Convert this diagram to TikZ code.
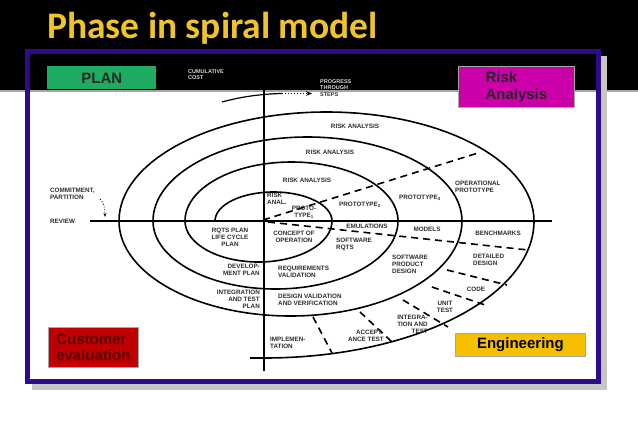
\documentclass[tikz,border=0pt]{standalone}
\usepackage{fontspec}
\setmainfont{Liberation Sans}
\newfontfamily\titlefont{Carlito}
\usetikzlibrary{arrows.meta}
\definecolor{frameblue}{RGB}{44,12,140}
\definecolor{plangreen}{RGB}{30,172,98}
\definecolor{riskmag}{RGB}{204,0,168}
\definecolor{custred}{RGB}{192,0,0}
\definecolor{enggold}{RGB}{246,192,0}
\definecolor{titleyellow}{RGB}{240,196,40}
\tikzset{
  lbl/.style={font=\bfseries\fontsize{6.3}{7}\selectfont, text=black!82, inner sep=0pt, align=center},
  lbll/.style={lbl, align=left},
  lblr/.style={lbl, align=right},
  phase/.style={font=\bfseries\fontsize{15}{16.5}\selectfont, inner sep=3pt, align=left, anchor=north west, draw=gray!70, line width=0.8pt},
  spiral/.style={line width=1.6pt, black},
  dsh/.style={line width=1.6pt, dash pattern=on 7pt off 5pt, black}
}
\begin{document}
\begin{tikzpicture}[x=1pt,y=-1pt]
\useasboundingbox (0,0) rectangle (638,426);
% background
\fill[black] (0,0) rectangle (638,90);
\fill[white] (0,90) rectangle (638,426);
\fill[gray!70] (0,90) rectangle (638,91.5);
% shadow and frame
\fill[gray!45] (600,56) rectangle (607,390);
\fill[gray!45] (32,383) rectangle (607,390);
\fill[white] (29,91.5) rectangle (597,380);
\draw[frameblue, line width=5pt] (27.5,51.5) rectangle (598,381);
% title
\node[anchor=base west, text=titleyellow, font=\titlefont\bfseries\fontsize{37.5}{42}\selectfont, inner sep=0pt] (title) at (47,38) {Phase in spiral model};
% phase boxes
\node[phase, fill=plangreen, text=black!85, minimum width=109pt, minimum height=23pt, draw=none] (plan) at (47,66) {PLAN};
\node[phase, fill=riskmag, text=black!85, minimum width=116pt, minimum height=41pt, inner sep=2pt] (risk) at (458,66) {Risk\\Analysis};
\node[phase, fill=custred, text={rgb,255:red,90;green,0;blue,0}, minimum width=90pt, minimum height=40pt, inner sep=2pt] (cust) at (48,327) {Customer\\evaluation};
\node[phase, fill=enggold, text=black, minimum width=130pt, minimum height=23pt, inner sep=3pt] (eng) at (455,333) {Engineering};
% axes
\coordinate (vtop) at (264,65);
\coordinate (vbot) at (264,371);
\coordinate (hl) at (90,221);
\coordinate (hr) at (552,221);
\draw[line width=1.3pt, -{Triangle[open, length=9pt, width=9pt, line width=0.8pt]}] (vbot) -- (vtop);
\draw[line width=1.6pt] (hl) -- (hr);
% spiral
\draw[spiral] (215,221)
  arc[start angle=180,end angle=360,x radius=58.5,y radius=29]
  arc[start angle=0,end angle=180,x radius=73.5,y radius=41]
  arc[start angle=180,end angle=360,x radius=106.5,y radius=59]
  arc[start angle=0,end angle=180,x radius=122.5,y radius=68]
  arc[start angle=180,end angle=360,x radius=154.5,y radius=84]
  arc[start angle=0,end angle=180,x radius=171.5,y radius=95]
  arc[start angle=180,end angle=360,x radius=207.5,y radius=109]
  arc[start angle=0,end angle=90,x radius=270,y radius=137] -- ++(-14,0);
% dashed radials
\coordinate (du1) at (263,220); \coordinate (du2) at (478,153);
\coordinate (dl1) at (268,222); \coordinate (dl2) at (528,250);
\draw[dsh] (du1) -- (du2);
\draw[dsh] (dl1) -- (dl2);
\coordinate (e1a) at (313,317); \coordinate (e1b) at (332,353);
\coordinate (e2a) at (360,312); \coordinate (e2b) at (393,343);
\coordinate (e3a) at (403,300); \coordinate (e3b) at (448,327);
\coordinate (e4a) at (432,287); \coordinate (e4b) at (485,305);
\coordinate (e5a) at (447,270); \coordinate (e5b) at (507,285);
\draw[dsh] (e1a) -- (e1b);
\draw[dsh] (e2a) -- (e2b);
\draw[dsh] (e3a) -- (e3b);
\draw[dsh] (e4a) -- (e4b);
\draw[dsh] (e5a) -- (e5b);
% progress arrow
\coordinate (p0) at (222,102);
\coordinate (p1) at (282,93.5);
\coordinate (p2) at (312,93.5);
\draw[line width=1.2pt, black] (p0) .. controls (240,97) and (260,94) .. (p1);
\draw[line width=1pt, black, dotted, -{Stealth[length=6pt]}] (p1) -- (p2);
% commitment arrow
\coordinate (c0) at (100,199);
\coordinate (c1) at (105,217);
\draw[line width=0.9pt, dotted, -{Stealth[length=4pt]}] (c0) .. controls (104,203) and (105,208) .. (c1);
% labels on black
\node[lbll, text=white!85!black, anchor=north west, font=\bfseries\fontsize{5.5}{6}\selectfont] (cum) at (188,69) {CUMULATIVE\\COST};
\node[lbll, text=white!85!black, anchor=north west, font=\bfseries\fontsize{5.5}{6}\selectfont] (prog) at (320,79) {PROGRESS\\THROUGH};
\node[lbll, anchor=north west, font=\bfseries\fontsize{5.5}{6}\selectfont] (steps) at (320,92) {STEPS};
% spiral labels
\node[lbl] (ra1) at (355,126) {RISK ANALYSIS};
\node[lbl] (ra2) at (330,152) {RISK ANALYSIS};
\node[lbl] (ra3) at (307,180) {RISK ANALYSIS};
\node[lbll, anchor=north west] (ra4) at (267,193) {RISK\\ANAL.};
\node[lbl] (pt1) at (304,212) {PROTO-\\TYPE$_{\mathbf{1}}$};
\node[lbl] (pt2) at (360,205) {PROTOTYPE$_{\mathbf{2}}$};
\node[lbl] (pt3) at (420,198) {PROTOTYPE$_{\mathbf{3}}$};
\node[lbll, anchor=north west] (opp) at (455,181) {OPERATIONAL\\PROTOTYPE};
\node[lbl] (emu) at (367,226) {EMULATIONS};
\node[lbl] (mod) at (427,229) {MODELS};
\node[lbl] (ben) at (498,233) {BENCHMARKS};
\node[lbl] (rqts) at (230,237) {RQTS PLAN\\LIFE CYCLE\\PLAN};
\node[lbl] (con) at (294,237) {CONCEPT OF\\OPERATION};
\node[lbll, anchor=north west] (swr) at (336,238) {SOFTWARE\\RQTS};
\node[lblr, anchor=north east] (dev) at (260,264) {DEVELOP-\\MENT PLAN};
\node[lbll, anchor=north west] (req) at (278,266) {REQUIREMENTS\\VALIDATION};
\node[lbll, anchor=north west] (spd) at (392,255) {SOFTWARE\\PRODUCT\\DESIGN};
\node[lbll, anchor=north west] (det) at (473,254) {DETAILED\\DESIGN};
\node[lbl] (code) at (476,289) {CODE};
\node[lbl] (unit) at (445,307) {UNIT\\TEST};
\node[lblr, anchor=north east] (intg) at (428,315) {INTEGRA-\\TION AND\\TEST};
\node[lblr, anchor=north east] (acc) at (384,330) {ACCEPT-\\ANCE TEST};
\node[lbll, anchor=north west] (imp) at (270,337) {IMPLEMEN-\\TATION};
\node[lbll, anchor=north west] (dvv) at (278,294) {DESIGN VALIDATION\\AND VERIFICATION};
\node[lblr, anchor=north east] (itp) at (260,290) {INTEGRATION\\AND TEST\\PLAN};
\node[lbll, anchor=north west] (com) at (50,188) {COMMITMENT,\\PARTITION};
\node[lbl, anchor=west] (rev) at (50,221) {REVIEW};
\end{tikzpicture}
\end{document}
